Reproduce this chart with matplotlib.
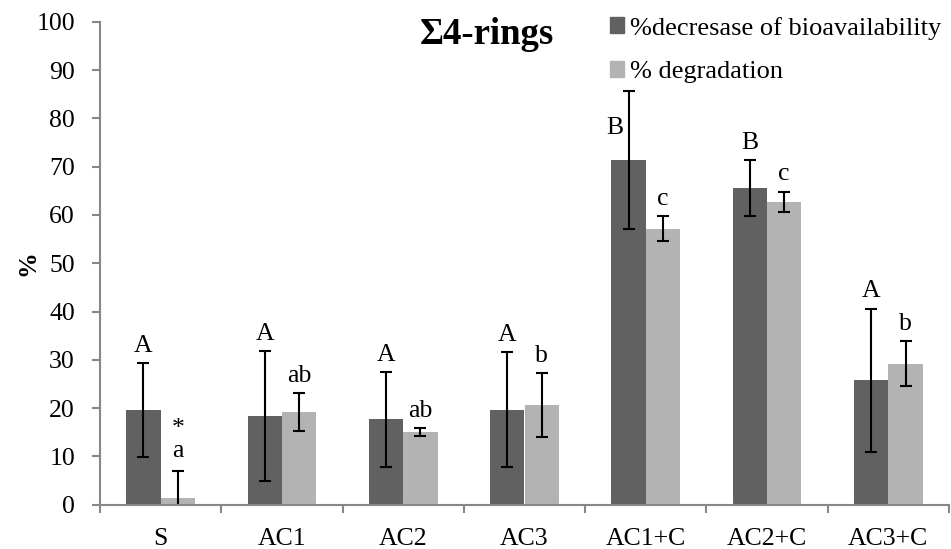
import matplotlib
matplotlib.use("Agg")
import matplotlib.pyplot as plt
from matplotlib.patches import Patch
import numpy as np

categories = ["S", "AC1", "AC2", "AC3", "AC1+C", "AC2+C", "AC3+C"]
bioavail = [19.6, 18.4, 17.7, 19.7, 71.3, 65.5, 25.8]
bioavail_err = [9.7, 13.4, 9.8, 11.9, 14.3, 5.8, 14.8]
degrad = [1.4, 19.2, 15.0, 20.6, 57.1, 62.7, 29.2]
degrad_err = [5.6, 3.9, 0.8, 6.6, 2.6, 2.1, 4.6]
letters_bio = ["A", "A", "A", "A", "B", "B", "A"]
letters_deg = ["a", "ab", "ab", "b", "c", "c", "b"]
legend_labels = ["%decresase of bioavailability", "% degradation"]
title = "Σ4-rings"

dark = "#616161"
light = "#b3b3b3"
axis_col = "#878787"

plt.rcParams["font.family"] = ["Liberation Serif", "DejaVu Serif"]

fig = plt.figure(figsize=(9.51, 5.49), dpi=100)
ax = fig.add_axes([100 / 951, 1 - 504.7 / 549, 849 / 951, (504.7 - 21.7) / 549])

x = np.arange(len(categories))
w = 0.283
ekw = dict(ecolor="black", elinewidth=1.5, capsize=4.5, capthick=1.5)
ax.bar(x - w / 2, bioavail, w, color=dark, yerr=bioavail_err, error_kw=ekw, zorder=2)
ax.bar(x + w / 2, degrad, w, color=light, yerr=degrad_err, error_kw=ekw, zorder=2)

fs = 18.5
for i in range(len(categories)):
    top_b = bioavail[i] + bioavail_err[i]
    if i == 4:
        # letter sits beside the tall error bar
        ax.text(x[i] - w / 2 - 0.11, 78, letters_bio[i], ha="center", va="center", fontsize=fs)
    else:
        ax.annotate(letters_bio[i], (x[i] - w / 2, top_b), xytext=(0, 12.5),
                    textcoords="offset points", ha="center", va="center", fontsize=fs)
    top_d = degrad[i] + degrad_err[i]
    ax.annotate(letters_deg[i], (x[i] + w / 2, top_d), xytext=(0, 14 if i == 0 else 12.5),
                textcoords="offset points", ha="center", va="center", fontsize=fs)
    if i == 0:
        ax.annotate("*", (x[i] + w / 2, top_d), xytext=(0, 30),
                    textcoords="offset points", ha="center", va="center", fontsize=fs)

ax.set_xlim(-0.5, len(categories) - 0.5)
ax.set_ylim(0, 100)
ax.set_yticks(np.arange(0, 101, 10))
ax.set_xticks(x)
ax.set_xticklabels(categories, fontsize=fs)
ax.set_xticks(np.arange(-0.5, len(categories) + 0.5, 1), minor=True)
ax.tick_params(axis="x", which="major", length=0, pad=17)
ax.tick_params(axis="x", which="minor", length=6, width=1.5, color=axis_col, direction="out")
ax.tick_params(axis="y", length=6, width=1.5, color=axis_col, labelsize=fs, pad=12)
for s in ["top", "right"]:
    ax.spines[s].set_visible(False)
for s in ["left", "bottom"]:
    ax.spines[s].set_color(axis_col)
    ax.spines[s].set_linewidth(1.5)

fig.text(28 / 951, 1 - 263 / 549, "%", rotation=90, ha="center", va="center",
         fontsize=fs, fontweight="bold")

fig.text(487 / 951, 1 - 35 / 549, title, ha="center", va="center",
         fontsize=26.5, fontweight="bold")

handles = [Patch(color=dark), Patch(color=light)]
fig.legend(handles, legend_labels, loc="upper left", bbox_to_anchor=(599 / 951, 1 - 6 / 549),
           frameon=False, fontsize=19, handlelength=0.55, handleheight=0.55,
           handletextpad=0.22, labelspacing=0.82, borderaxespad=0)

fig.savefig("out.png", dpi=100)
